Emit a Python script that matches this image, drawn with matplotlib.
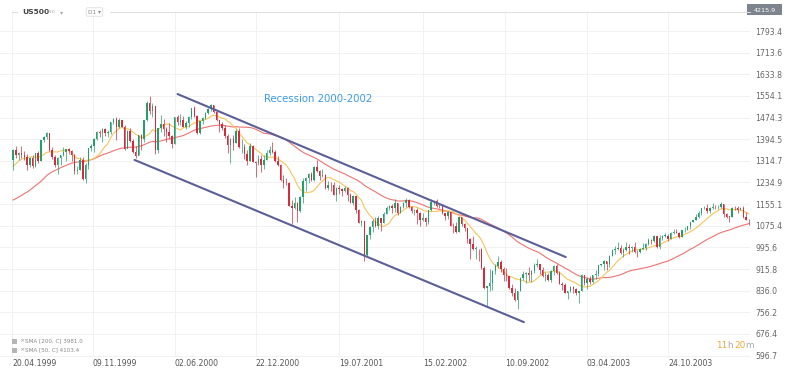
import numpy as np
import pandas as pd
import matplotlib
matplotlib.use("Agg")
import matplotlib.pyplot as plt
import matplotlib.dates as mdates
from matplotlib.patches import Rectangle

# ---------------- data (weekly) ----------------
# closes before the visible window (only feed the moving averages)
pre_closes = [1140, 1121, 1089, 1062, 1081, 1027, 973, 1009, 1020, 1044, 1002, 984,
              1056, 1071, 1098, 1141, 1125, 1163, 1192, 1176, 1166, 1188, 1226, 1229,
              1275, 1243, 1225, 1279, 1239, 1230, 1239, 1238, 1275, 1294, 1299, 1282,
              1293, 1348, 1319]

first_week = "1999-04-23"

closes = [
    # 1999
    1356, 1335, 1345, 1337, 1330, 1301, 1327, 1294, 1342, 1315, 1391, 1403, 1418,
    1356, 1329, 1300, 1327, 1336, 1348, 1357, 1351, 1335, 1277, 1282, 1317, 1247,
    1301, 1362, 1370, 1397, 1422, 1417, 1433, 1417, 1421, 1458, 1469,
    # 2000
    1441, 1465, 1441, 1360, 1424, 1387, 1346, 1333, 1409, 1395, 1464, 1527, 1499,
    1516, 1356, 1434, 1452, 1433, 1421, 1406, 1378, 1477, 1457, 1464, 1441, 1455,
    1478, 1509, 1480, 1419, 1462, 1471, 1491, 1507, 1520, 1494, 1465, 1449, 1436,
    1408, 1374, 1396, 1379, 1426, 1365, 1367, 1341, 1315, 1369, 1312, 1305, 1320,
    # 2001
    1298, 1318, 1342, 1355, 1349, 1315, 1301, 1245, 1234, 1233, 1150, 1139, 1160,
    1128, 1183, 1242, 1253, 1266, 1245, 1291, 1277, 1260, 1264, 1214, 1225, 1224,
    1190, 1215, 1210, 1205, 1214, 1190, 1161, 1185, 1134, 1085, 1092, 966, 1041,
    1071, 1092, 1073, 1104, 1087, 1120, 1139, 1150, 1139, 1158, 1124, 1144, 1161,
    # 2002
    1172, 1146, 1128, 1133, 1122, 1096, 1104, 1090, 1132, 1164, 1166, 1148, 1147,
    1122, 1111, 1125, 1076, 1073, 1054, 1106, 1083, 1067, 1027, 1007, 990, 990,
    989, 921, 847, 852, 864, 908, 928, 940, 916, 893, 889, 846, 827,
    800, 835, 884, 897, 900, 895, 910, 930, 936, 912, 889, 895, 876,
    # 2003
    908, 927, 901, 861, 856, 829, 834, 851, 841, 829, 833, 895, 863,
    878, 868, 893, 898, 930, 933, 944, 933, 964, 987, 988, 995, 976,
    985, 998, 993, 998, 980, 977, 990, 993, 1008, 1021, 1018, 1036, 997,
    1029, 1038, 1039, 1028, 1050, 1053, 1050, 1035, 1058, 1061, 1074, 1088, 1095,
    # 2004
    1108, 1122, 1140, 1141, 1131, 1142, 1146, 1144, 1145, 1156, 1120, 1109, 1108,
    1141, 1139, 1134, 1140, 1107, 1098, 1095,
]

lows = [
    # 1999
    1282, 1326, 1317, 1326, 1318, 1281, 1292, 1287, 1292, 1308, 1313, 1385, 1397,
    1350, 1320, 1291, 1268, 1300, 1332, 1314, 1341, 1314, 1268, 1265, 1280, 1245,
    1233, 1286, 1350, 1348, 1391, 1403, 1384, 1406, 1403, 1415, 1450,
    # 2000
    1391, 1434, 1438, 1356, 1361, 1385, 1344, 1325, 1335, 1355, 1384, 1462, 1486,
    1477, 1339, 1345, 1420, 1407, 1384, 1397, 1363, 1376, 1448, 1448, 1440, 1432,
    1440, 1470, 1478, 1414, 1415, 1450, 1470, 1486, 1500, 1491, 1462, 1421, 1429,
    1400, 1345, 1305, 1355, 1380, 1363, 1343, 1322, 1300, 1315, 1310, 1255, 1298,
    # 2001
    1274, 1283, 1317, 1336, 1345, 1310, 1296, 1241, 1215, 1225, 1148, 1081, 1136,
    1091, 1126, 1160, 1205, 1233, 1240, 1240, 1273, 1245, 1255, 1211, 1208, 1203,
    1188, 1165, 1194, 1184, 1200, 1168, 1160, 1153, 1124, 1084, 1073, 944, 963,
    1026, 1052, 1070, 1064, 1055, 1084, 1117, 1132, 1124, 1126, 1114, 1123, 1140,
    # 2002
    1145, 1141, 1124, 1116, 1081, 1074, 1094, 1074, 1083, 1131, 1151, 1145, 1140,
    1119, 1096, 1100, 1074, 1049, 1049, 1053, 1075, 1055, 1012, 952, 986, 953,
    946, 916, 843, 775, 836, 838, 898, 920, 906, 870, 870, 842, 817,
    798, 768, 833, 875, 865, 872, 869, 902, 925, 899, 887, 871, 873,
    # 2003
    869, 894, 898, 859, 838, 826, 806, 831, 826, 820, 789, 833, 856,
    843, 861, 863, 880, 890, 926, 914, 913, 925, 962, 973, 985, 973,
    960, 983, 973, 977, 974, 960, 976, 990, 986, 1006, 1007, 1017, 995,
    990, 1022, 1035, 1018, 1028, 1044, 1048, 1031, 1035, 1053, 1060, 1065, 1088,
    # 2004
    1095, 1105, 1115, 1136, 1122, 1124, 1138, 1138, 1137, 1142, 1107, 1105, 1088,
    1108, 1133, 1122, 1132, 1104, 1098, 1077,
]

highs = [
    # 1999
    1358, 1371, 1349, 1368, 1350, 1340, 1328, 1336, 1345, 1351, 1392, 1405, 1421,
    1416, 1365, 1337, 1330, 1338, 1365, 1360, 1362, 1353, 1340, 1295, 1330, 1330,
    1308, 1363, 1375, 1398, 1425, 1427, 1436, 1435, 1428, 1459, 1473,
    # 2000
    1478, 1473, 1466, 1446, 1428, 1434, 1395, 1370, 1410, 1414, 1465, 1535, 1553,
    1527, 1516, 1436, 1482, 1468, 1440, 1456, 1410, 1478, 1484, 1488, 1480, 1460,
    1480, 1510, 1517, 1482, 1463, 1476, 1495, 1509, 1525, 1521, 1497, 1467, 1459,
    1448, 1414, 1400, 1410, 1433, 1434, 1394, 1375, 1355, 1380, 1372, 1315, 1335,
    # 2001
    1335, 1335, 1355, 1370, 1383, 1355, 1331, 1302, 1263, 1250, 1236, 1172, 1183,
    1162, 1185, 1253, 1255, 1270, 1272, 1296, 1316, 1280, 1286, 1265, 1240, 1236,
    1236, 1219, 1225, 1215, 1222, 1218, 1196, 1187, 1186, 1138, 1096, 1092, 1043,
    1075, 1100, 1107, 1110, 1105, 1125, 1148, 1152, 1157, 1173, 1160, 1148, 1164,
    # 2002
    1176, 1173, 1150, 1138, 1139, 1125, 1123, 1108, 1133, 1173, 1170, 1173, 1160,
    1148, 1124, 1130, 1126, 1086, 1089, 1107, 1109, 1084, 1067, 1031, 1039, 1002,
    990, 994, 926, 855, 916, 913, 936, 962, 950, 925, 918, 891, 860,
    847, 836, 885, 907, 905, 925, 912, 937, 954, 936, 925, 903, 902,
    # 2003
    911, 932, 935, 908, 869, 865, 836, 853, 852, 845, 835, 896, 895,
    885, 890, 895, 912, 931, 936, 948, 944, 966, 991, 1000, 1015, 1003,
    994, 1015, 1009, 1000, 1015, 987, 994, 1011, 1010, 1031, 1025, 1040, 1036,
    1040, 1040, 1048, 1044, 1054, 1062, 1063, 1053, 1060, 1071, 1075, 1089, 1097,
    # 2004
    1118, 1131, 1140, 1150, 1155, 1143, 1158, 1152, 1152, 1163, 1157, 1124, 1110,
    1144, 1149, 1148, 1146, 1147, 1127, 1102,
]

sma_short_weeks = 10   # SMA [50, C] on daily bars ~ 10 weeks
sma_long_weeks = 40    # SMA [200, C] on daily bars ~ 40 weeks

tick_dates = ["1999-04-20", "1999-11-09", "2000-06-02", "2000-12-22", "2001-07-19",
              "2002-02-15", "2002-09-10", "2003-04-03", "2003-10-24"]
tick_labels = ["20.04.1999", "09.11.1999", "02.06.2000", "22.12.2000", "19.07.2001",
               "15.02.2002", "10.09.2002", "03.04.2003", "24.10.2003"]

price_ticks = [596.7, 676.4, 756.2, 836.0, 915.8, 995.6, 1075.4, 1155.1, 1234.9,
               1314.7, 1394.5, 1474.3, 1554.1, 1633.8, 1713.6, 1793.4]
price_tick_labels = ["596.7", "676.4", "756.2", "836.0", "915.8", "995.6", "1075.4",
                     "1155.1", "1234.9", "1314.7", "1394.5", "1474.3", "1554.1",
                     "1633.8", "1713.6", "1793.4"]

channel_upper_dates = ["2000-06-09", "2003-02-09"]
channel_upper_prices = [1561, 960]
channel_lower_dates = ["2000-02-22", "2002-10-27"]
channel_lower_prices = [1318, 720]

annotation_text = "Recession 2000-2002"
annotation_date = "2001-01-13"
annotation_price = 1543

x_range = ["1999-03-21", "2004-05-17"]
y_range = [591.4, 1863.5]

legend_rows = ["SMA [200, C] 3981.0", "SMA [50, C] 4103.4"]
last_price_tag = "4215.9"
timer_parts = ["11", "h", "20", "m"]

# ---------------- figure ----------------
W, H = 794, 379
fig = plt.figure(figsize=(W / 100, H / 100), dpi=100)
fig.patch.set_facecolor("white")

def fx(px):
    return px / W

def fy(py):
    return 1 - py / H

ax_l, ax_r, ax_t, ax_b = 0, 750, 12, 357
ax = fig.add_axes([fx(ax_l), fy(ax_b), fx(ax_r - ax_l), (ax_b - ax_t) / H])
ax.set_facecolor("white")

dates = pd.date_range(first_week, periods=len(closes), freq="W-FRI")
x = mdates.date2num(dates.to_pydatetime())

all_closes = pd.Series(pre_closes + closes, dtype=float)
sma_s = all_closes.rolling(sma_short_weeks).mean().to_numpy()[len(pre_closes):]
sma_l = all_closes.rolling(sma_long_weeks).mean().to_numpy()[len(pre_closes):]

opens = np.array([pre_closes[-1]] + closes[:-1], dtype=float)
c = np.array(closes, dtype=float)
lo = np.array(lows, dtype=float)
hi = np.array(highs, dtype=float)

green = "#22a06b"
red = "#d9293c"
up = c >= opens
cols = np.where(up, green, red)

# grid
for p in price_ticks:
    ax.axhline(p, color="#f1f1f1", lw=0.7, zorder=0)
tick_x = mdates.date2num(pd.to_datetime(tick_dates).to_pydatetime())
for t in tick_x:
    ax.axvline(t, color="#f1f1f1", lw=0.7, zorder=0)

# moving averages
ax.plot(x, sma_l, color="#f07272", lw=0.8, zorder=2)
ax.plot(x, sma_s, color="#f8c45c", lw=0.8, zorder=2)

# candles
ax.vlines(x, lo, hi, colors=cols, lw=0.5, zorder=3)
body_bottom = np.minimum(opens, c)
body_h = np.maximum(np.abs(c - opens), 1.5)
ax.bar(x, body_h, bottom=body_bottom, width=3.6, color=cols, lw=0, zorder=4)

# channel
ud = mdates.date2num(pd.to_datetime(channel_upper_dates).to_pydatetime())
ld = mdates.date2num(pd.to_datetime(channel_lower_dates).to_pydatetime())
ax.plot(ud, channel_upper_prices, color="#5b5f98", lw=1.5, zorder=5, solid_capstyle="round")
ax.plot(ld, channel_lower_prices, color="#5b5f98", lw=1.5, zorder=5, solid_capstyle="round")

ax.text(mdates.date2num(pd.Timestamp(annotation_date).to_pydatetime()), annotation_price,
        annotation_text, color="#3a9ae8", fontsize=7.3, ha="left", va="center", zorder=6)

ax.set_xlim(mdates.date2num(pd.to_datetime(x_range).to_pydatetime()))
ax.set_ylim(y_range)

for s in ax.spines.values():
    s.set_visible(False)

ax.set_xticks(tick_x)
ax.set_xticklabels(tick_labels, ha="left", fontsize=5.6, color="#555555")
ax.tick_params(axis="x", length=0, pad=1.2)

ax.yaxis.tick_right()
ax.set_yticks(price_ticks)
ax.set_yticklabels(price_tick_labels, fontsize=5.6, color="#666666")
ax.tick_params(axis="y", length=0, pad=4)

# frame top line (interrupted by header)
fig.add_artist(plt.Line2D([fx(12), fx(17)], [fy(12), fy(12)], color="#dddddd", lw=0.7))
fig.add_artist(plt.Line2D([fx(110), fx(750)], [fy(12), fy(12)], color="#dddddd", lw=0.7))

# header
fig.text(fx(22), fy(12), "US500", fontsize=5.4, fontweight="bold", color="#444444",
         ha="left", va="center")
fig.text(fx(48), fy(12), "IND", fontsize=3.2, color="#aaaaaa", ha="left", va="center")
fig.text(fx(60), fy(12.5), "▾", fontsize=4.5, color="#aaaaaa", ha="left", va="center",
         family=["DejaVu Sans"])
fig.text(fx(88), fy(12), "D1 ▾", fontsize=4.2, color="#888888", ha="left", va="center",
         bbox=dict(boxstyle="round,pad=0.3,rounding_size=0.25", fc="white", ec="#dddddd", lw=0.6))

# last price tag
fig.add_artist(Rectangle((fx(747), fy(14.5)), fx(35), 10 / H, transform=fig.transFigure,
                         fc="#7d848e", ec="none"))
fig.text(fx(764.5), fy(10), last_price_tag, fontsize=4.6, color="white", ha="center", va="center")

# legend rows
for i, row in enumerate(legend_rows):
    yy = 341 + i * 9
    fig.add_artist(Rectangle((fx(12), fy(yy + 2.5)), fx(5), 5 / H, transform=fig.transFigure,
                             fc="#b5b5b5", ec="none"))
    fig.text(fx(19.5), fy(yy), "×", fontsize=4.5, color="#999999", ha="left", va="center")
    fig.text(fx(25), fy(yy), row, fontsize=4.1, color="#888888", ha="left", va="center")

# timer "11h 20m" laid out piece by piece
orange = "#f5a83a"
renderer = fig.canvas.get_renderer()
cur = 716.0
gaps = [-0.4, 1.8, -0.4, 0]
for part, gap in zip(timer_parts, gaps):
    color = orange if part[0].isdigit() else "#aaaaaa"
    t = fig.text(fx(cur), fy(345), part, fontsize=6.4, color=color, ha="left", va="center")
    bb = t.get_window_extent(renderer=renderer)
    cur += bb.width + gap

fig.savefig("out.png", dpi=100, facecolor="white")
